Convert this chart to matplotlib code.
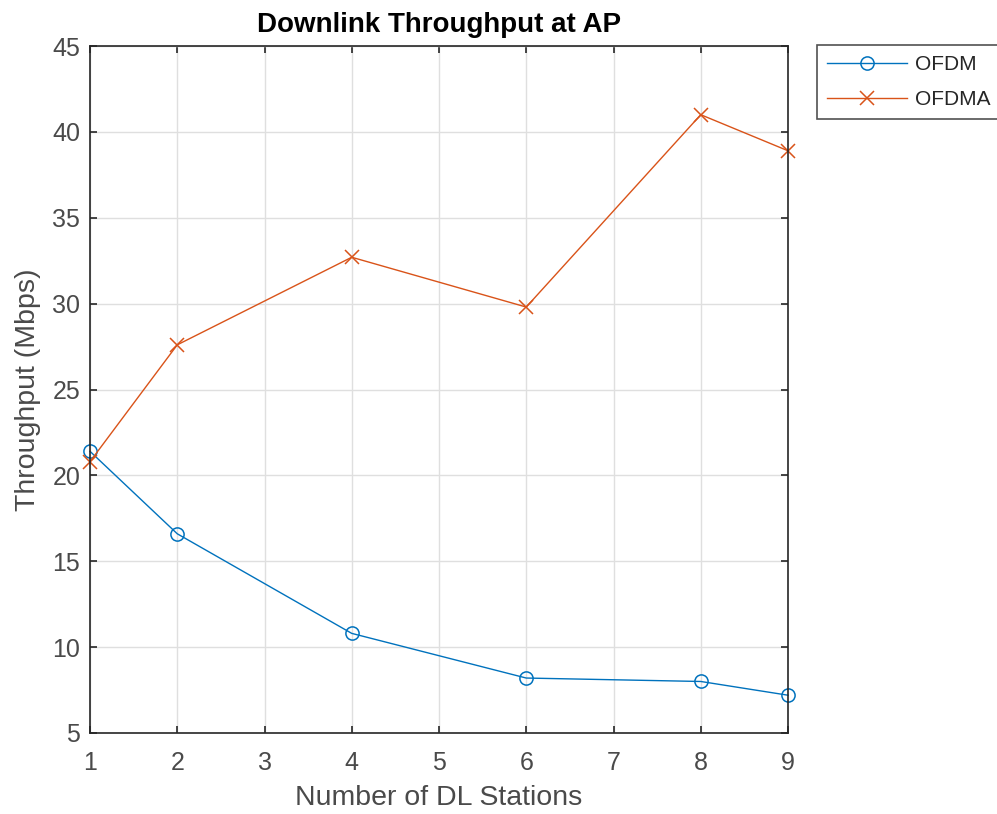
import matplotlib
matplotlib.use("Agg")
import matplotlib.pyplot as plt

stations = [1, 2, 4, 6, 8, 9]
ofdm = [21.4, 16.6, 10.8, 8.2, 8.0, 7.2]
ofdma = [20.8, 27.6, 32.7, 29.8, 41.0, 38.9]
xticks = [1, 2, 3, 4, 5, 6, 7, 8, 9]
yticks = [5, 10, 15, 20, 25, 30, 35, 40, 45]

plt.rcParams['font.family'] = ['Liberation Sans', 'DejaVu Sans']

fig = plt.figure(figsize=(9.97, 8.14), dpi=100)
ax = fig.add_axes([90/997, 1-733/814, (788-90)/997, (733-46)/814])

ax.plot(stations, ofdm, color='#0072BD', marker='o', markersize=9.5, markerfacecolor='none',
        markeredgewidth=1.1, linewidth=1.0, label='OFDM', clip_on=False)
ax.plot(stations, ofdma, color='#D95319', marker='x', markersize=9.5,
        markeredgewidth=1.1, linewidth=1.0, label='OFDMA', clip_on=False)

ax.set_xlim(1, 9)
ax.set_ylim(5, 45)
ax.set_xticks(xticks)
ax.set_yticks(yticks)
ax.grid(True, color='#dfdfdf', linewidth=1)
ax.set_axisbelow(True)
for s in ax.spines.values():
    s.set_color('#262626')
    s.set_linewidth(1.2)
ax.tick_params(direction='in', top=True, right=True, length=5, width=1.2,
               colors='#262626', labelsize=18, labelcolor='#4a4a4a', pad=7)
ax.tick_params(axis='x', pad=13)

ax.set_title('Downlink Throughput at AP', fontsize=20, fontweight='bold', color='black', pad=10)
ax.set_xlabel('Number of DL Stations', fontsize=20.5, color='#4a4a4a', labelpad=7)
ax.set_ylabel('Throughput (Mbps)', fontsize=20.5, color='#4a4a4a', labelpad=8)

leg = ax.legend(loc='upper left', bbox_to_anchor=(817/997, 1-45/814), bbox_transform=fig.transFigure,
                fontsize=15, frameon=True, fancybox=False, edgecolor='#262626',
                borderaxespad=0, handlelength=3.8, handletextpad=0.4, labelspacing=0.75,
                borderpad=0.5)
leg.get_frame().set_linewidth(1.2)
for t in leg.get_texts():
    t.set_color('#262626')

fig.savefig('out.png', dpi=100)
